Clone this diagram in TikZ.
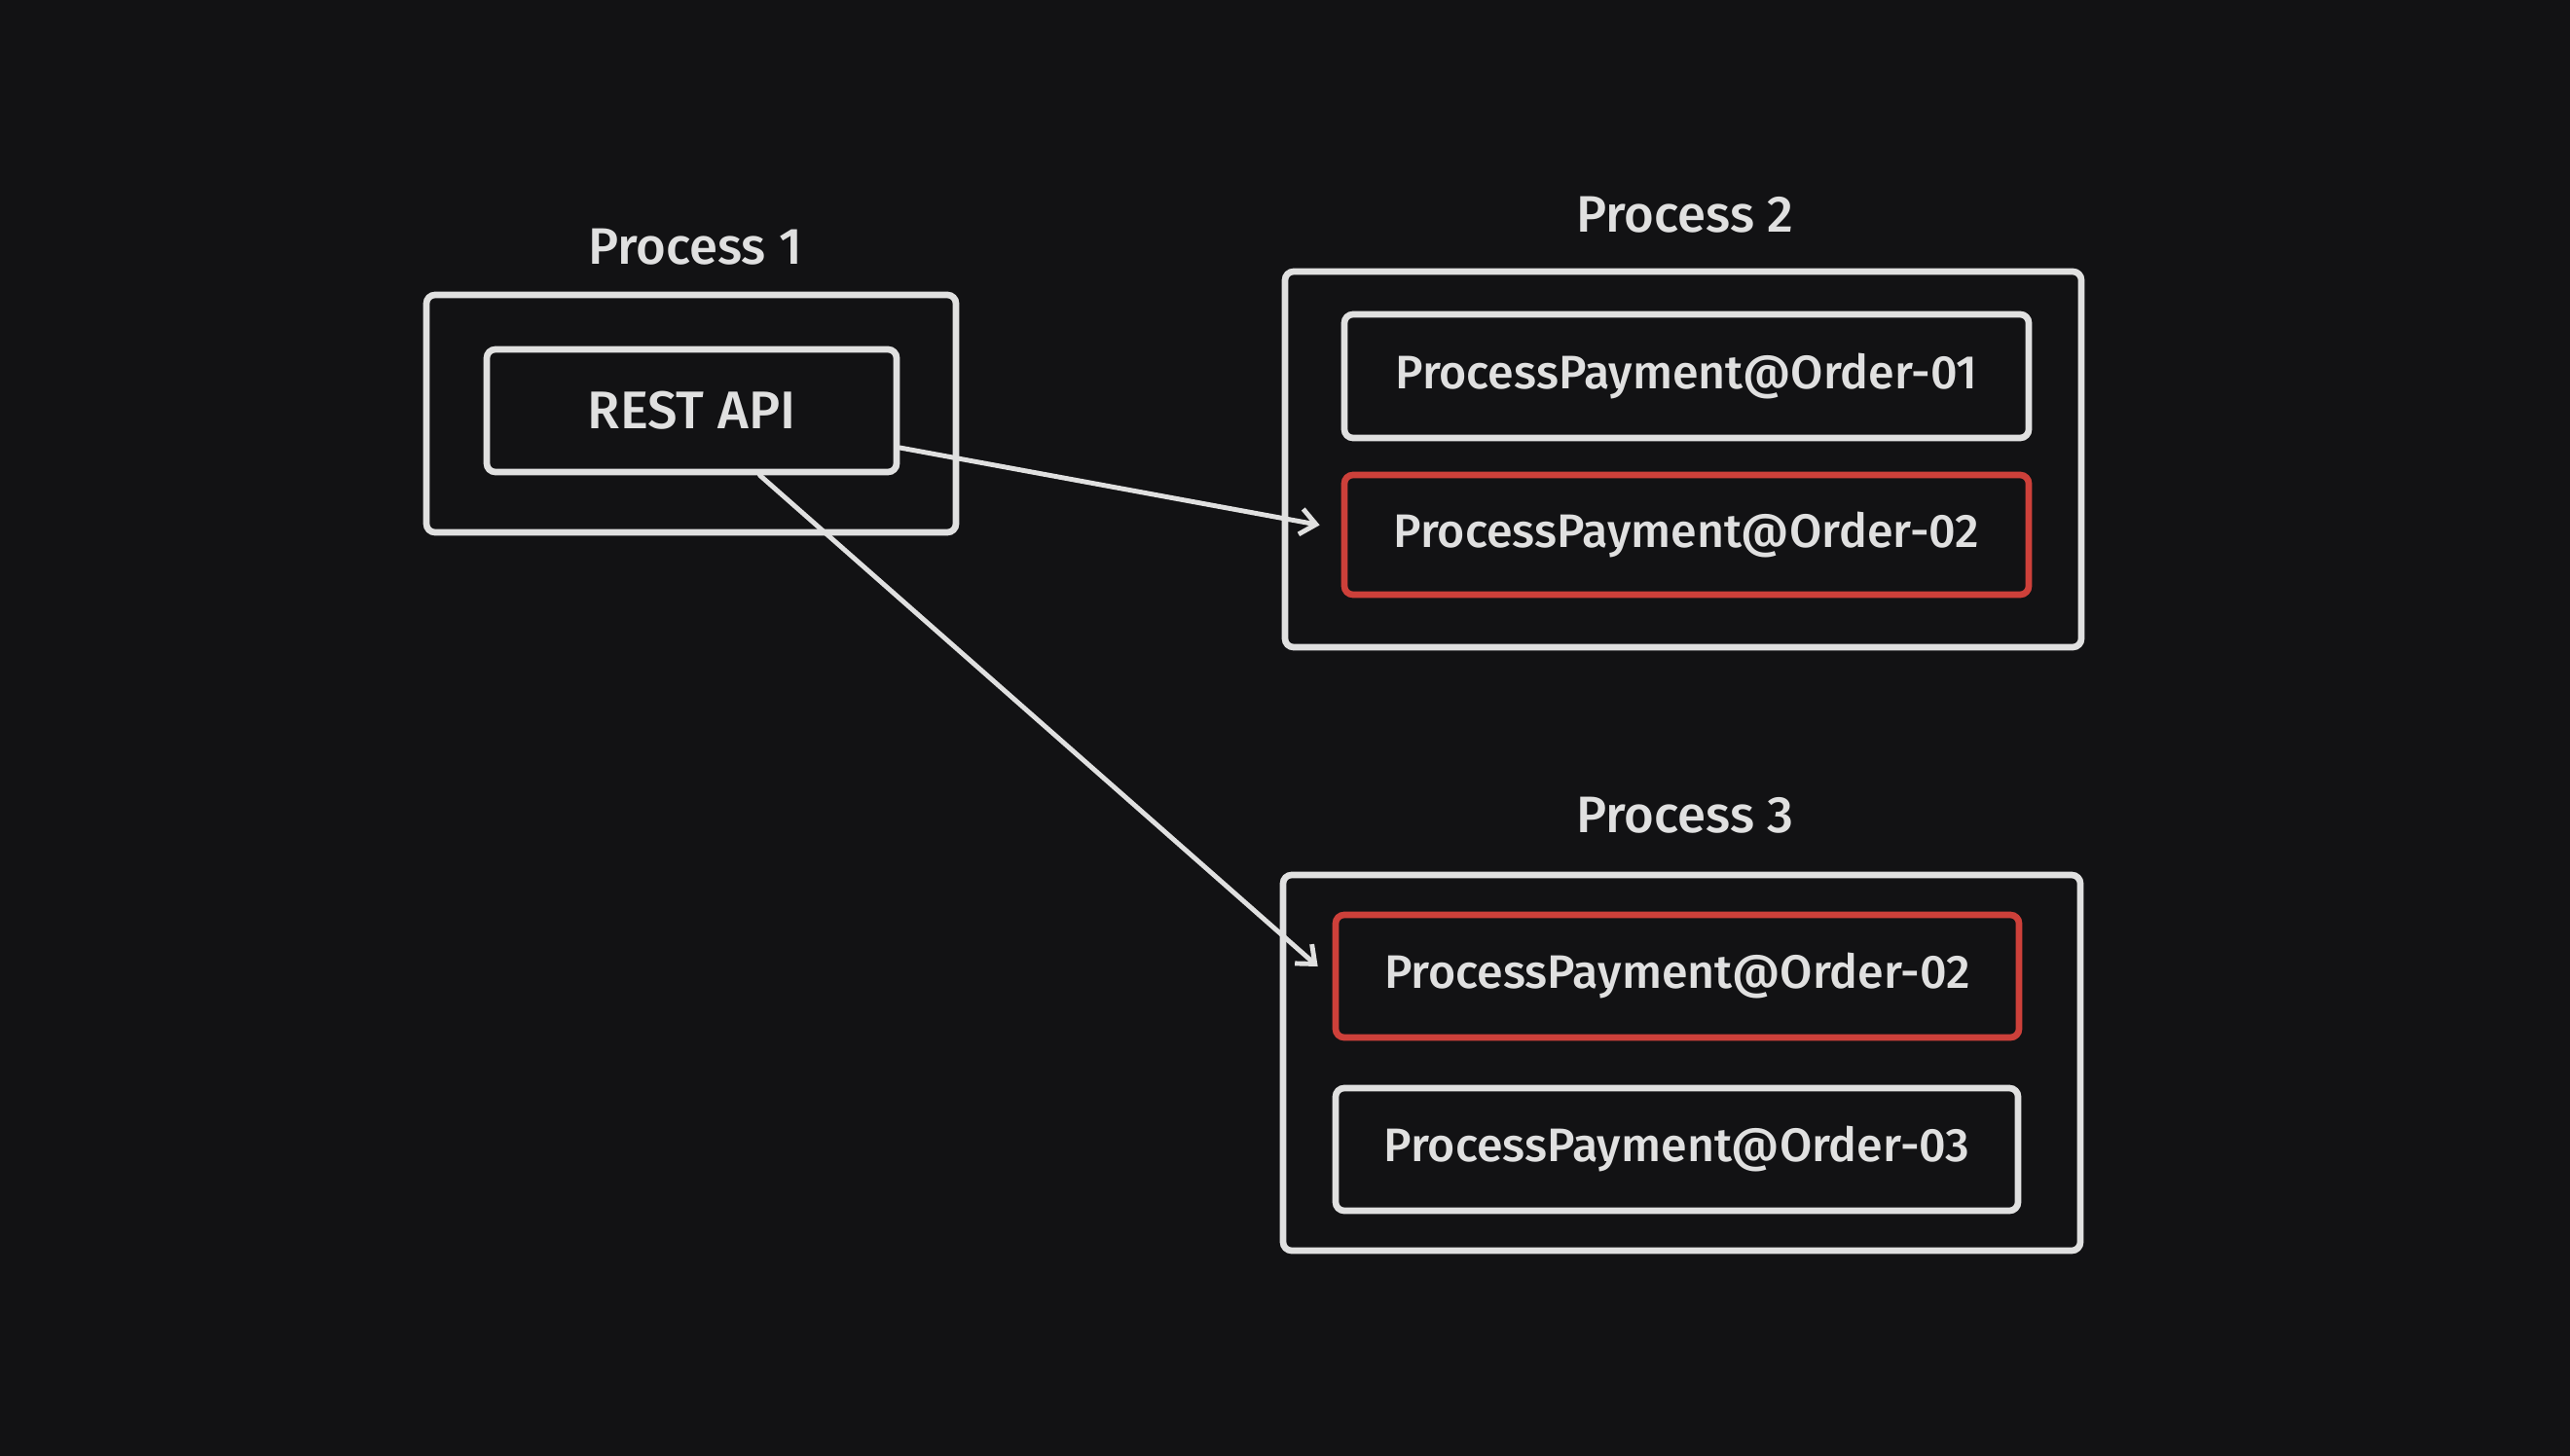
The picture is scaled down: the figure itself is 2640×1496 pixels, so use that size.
\documentclass[tikz,border=0pt]{standalone}
\usepackage{fontspec}
\setmainfont{Fira Sans}[UprightFont=* Medium]
\usetikzlibrary{arrows.meta,calc}
\definecolor{bg}{RGB}{18,18,20}
\definecolor{ink}{RGB}{224,224,224}
\definecolor{redline}{RGB}{205,64,58}
\tikzset{
  x=0.02cm, y=-0.02cm,
  outerbox/.style={draw=ink, line width=3.8pt, rounded corners=5pt, inner sep=0pt},
  innerbox/.style={draw=ink, line width=3.8pt, rounded corners=5pt, inner sep=0pt,
     text=ink, font=\fontsize{27.5}{32}\selectfont},
  hotbox/.style={innerbox, draw=redline},
  title/.style={text=ink, font=\fontsize{30}{34}\selectfont},
  arr/.style={draw=ink, line width=2.8pt, line cap=round,
     -{Straight Barb[length=9pt,width=15pt,line width=2.8pt]}}
}
\begin{document}
\begin{tikzpicture}
\fill[bg] (0,0) rectangle (2640,1496);
\useasboundingbox (0,0) rectangle (2640,1496);
% Process 1
\node[title] (t1) at (714,254) {Process 1};
\node[outerbox, minimum width=544*0.02cm, minimum height=244*0.02cm] (p1) at (710,425) {};
\node[innerbox, minimum width=421*0.02cm, minimum height=126*0.02cm, font=\fontsize{31}{34}\selectfont] (rest) at (710.5,422) {REST API};
% Process 2
\node[title] (t2) at (1731,221) {Process 2};
\node[outerbox, minimum width=818*0.02cm, minimum height=386*0.02cm] (p2) at (1729,472) {};
\node[innerbox, minimum width=703*0.02cm, minimum height=127*0.02cm] (p2a) at (1732.5,386.5) {ProcessPayment@Order-01};
\node[hotbox, minimum width=703*0.02cm, minimum height=123*0.02cm] (p2b) at (1732.5,549.5) {ProcessPayment@Order-02};
% Process 3
\node[title] (t3) at (1731,838) {Process 3};
\node[outerbox, minimum width=819*0.02cm, minimum height=386*0.02cm] (p3) at (1727.5,1092) {};
\node[hotbox, minimum width=702*0.02cm, minimum height=126*0.02cm] (p3a) at (1723,1003) {ProcessPayment@Order-02};
\node[innerbox, minimum width=701*0.02cm, minimum height=126*0.02cm] (p3b) at (1722.5,1181) {ProcessPayment@Order-03};
% connectors
\draw[arr] ($(rest.east)+(0,38)$) -- ($(p2b.west)+(-22,-10)$);
\draw[arr] ($(rest.south)+(70,0)$) -- ($(p3a.west)+(-15,-10)$);
\end{tikzpicture}
\end{document}
